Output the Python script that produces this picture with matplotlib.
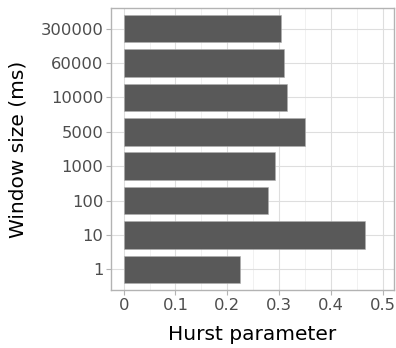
import numpy as np
import matplotlib
matplotlib.use("Agg")
import matplotlib.pyplot as plt
from matplotlib.ticker import MultipleLocator

# window sizes and the hurst parameter for each
windows = ["1", "10", "100", "1000", "5000", "10000", "60000", "300000"]
hurst = [0.225, 0.466, 0.279, 0.293, 0.351, 0.316, 0.310, 0.304]

fig = plt.figure(figsize=(3.96, 3.48), dpi=100)
ax = fig.add_axes([111 / 396, 58 / 348, 283 / 396, 282 / 348])

ypos = np.arange(1, len(windows) + 1)
ax.barh(ypos, hurst, height=0.8, color="#595959", edgecolor="#b0b0b0",
        linewidth=0.4, zorder=3)

ax.set_xlim(-0.0245, 0.522)
ax.set_ylim(0.4, 8.6)
ax.set_yticks(ypos)
ax.set_yticklabels(windows)
ax.set_xticks([0, 0.1, 0.2, 0.3, 0.4, 0.5])
ax.set_xticklabels(["0", "0.1", "0.2", "0.3", "0.4", "0.5"])
ax.xaxis.set_minor_locator(MultipleLocator(0.05))

ax.grid(which="major", color="#dedede", linewidth=0.8, zorder=0)
ax.grid(which="minor", axis="x", color="#ececec", linewidth=0.5, zorder=0)
ax.set_axisbelow(True)

for s in ax.spines.values():
    s.set_color("#b3b3b3")
    s.set_linewidth(1.0)

ax.tick_params(which="major", colors="#b3b3b3", labelcolor="#4d4d4d",
               labelsize=11.8, length=3.5, width=0.8, pad=2)
ax.tick_params(which="minor", length=0)

ax.set_xlabel("Hurst parameter", fontsize=14.5, color="black", labelpad=9)
ax.set_ylabel("Window size (ms)", fontsize=14.5, color="black", labelpad=9)

fig.savefig("out.png", dpi=100)
